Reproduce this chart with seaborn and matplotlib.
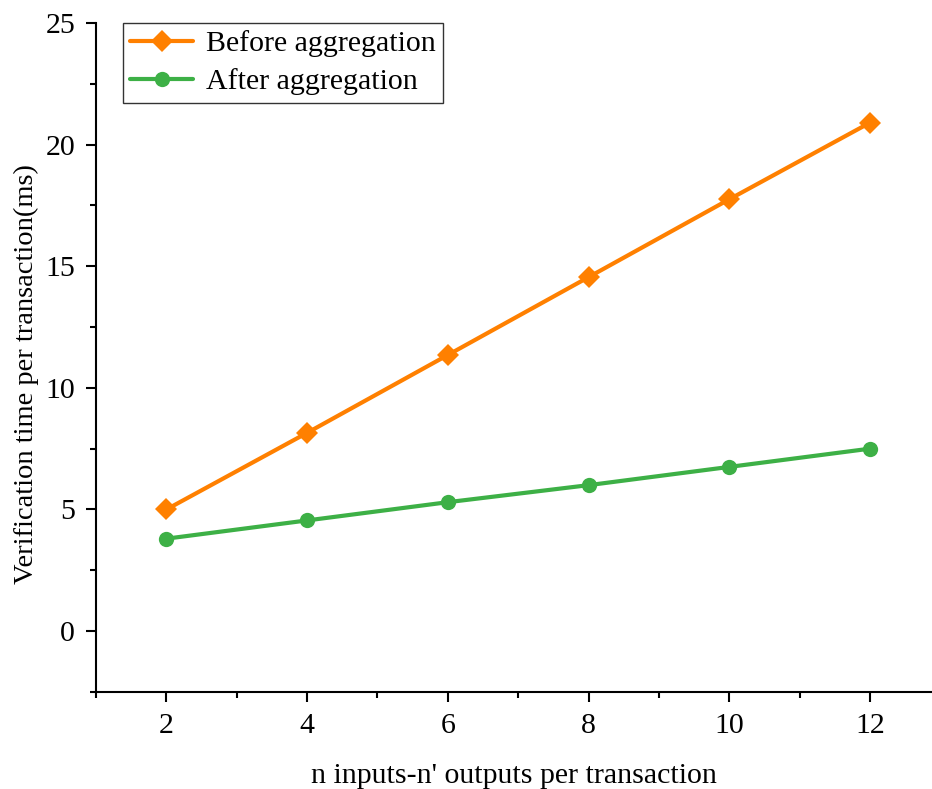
import numpy as np
import pandas as pd
import matplotlib
matplotlib.use('Agg')
import matplotlib.pyplot as plt
import seaborn as sns
from matplotlib.ticker import MultipleLocator

# data
n_io = [2, 4, 6, 8, 10, 12]
before_agg = [5.0, 8.15, 11.35, 14.55, 17.75, 20.9]
after_agg = [3.8, 4.55, 5.3, 6.0, 6.75, 7.5]
series_names = ['Before aggregation', 'After aggregation']

df = pd.DataFrame({
    'n': n_io * 2,
    'time': before_agg + after_agg,
    'series': [series_names[0]] * len(n_io) + [series_names[1]] * len(n_io),
})

sns.set_theme(style='ticks')
plt.rcParams['font.family'] = ['Liberation Serif', 'DejaVu Serif']
plt.rcParams['text.color'] = 'black'
plt.rcParams['axes.labelcolor'] = 'black'

fig = plt.figure(figsize=(9.32, 7.89), dpi=100)
ax = fig.add_axes([0.103, 0.123, 0.897, 0.848])

colors = {series_names[0]: '#FF8000', series_names[1]: '#3DB046'}
markers = {series_names[0]: 'D', series_names[1]: 'o'}
msizes = {series_names[0]: 11.5, series_names[1]: 11}

for name in series_names:
    sub = df[df['series'] == name]
    sns.lineplot(data=sub, x='n', y='time', color=colors[name], marker=markers[name],
                 markersize=msizes[name], markeredgewidth=0, linewidth=3,
                 label=name, ax=ax)

ax.set_xlim(1, 12.88)
ax.set_ylim(-2.5, 25)
ax.xaxis.set_major_locator(MultipleLocator(2))
ax.xaxis.set_minor_locator(MultipleLocator(1))
ax.yaxis.set_major_locator(MultipleLocator(5))
ax.yaxis.set_minor_locator(MultipleLocator(2.5))

for side in ['top', 'right']:
    ax.spines[side].set_visible(False)
for side in ['left', 'bottom']:
    ax.spines[side].set_linewidth(1.5)
    ax.spines[side].set_color('black')

ax.tick_params(which='major', direction='out', length=7, width=1.5,
               labelsize=21.5, colors='black', pad=8)
ax.tick_params(which='minor', direction='out', length=4, width=1.5, colors='black')

ax.set_xlabel("n inputs-n' outputs per transaction", fontsize=21.5, labelpad=17.5)
ax.set_ylabel('Verification time per transaction(ms)', fontsize=20.5)
ax.yaxis.set_label_coords(-0.068, 0.475)

leg = ax.legend(loc='upper left', bbox_to_anchor=(0.032, 1.0), fontsize=21.5,
                frameon=True, fancybox=False, edgecolor='black',
                handlelength=2.1, borderpad=0.25, labelspacing=0.37,
                handletextpad=0.43, borderaxespad=0.0)
leg.get_frame().set_linewidth(1.0)

fig.savefig('out.png', dpi=100)
